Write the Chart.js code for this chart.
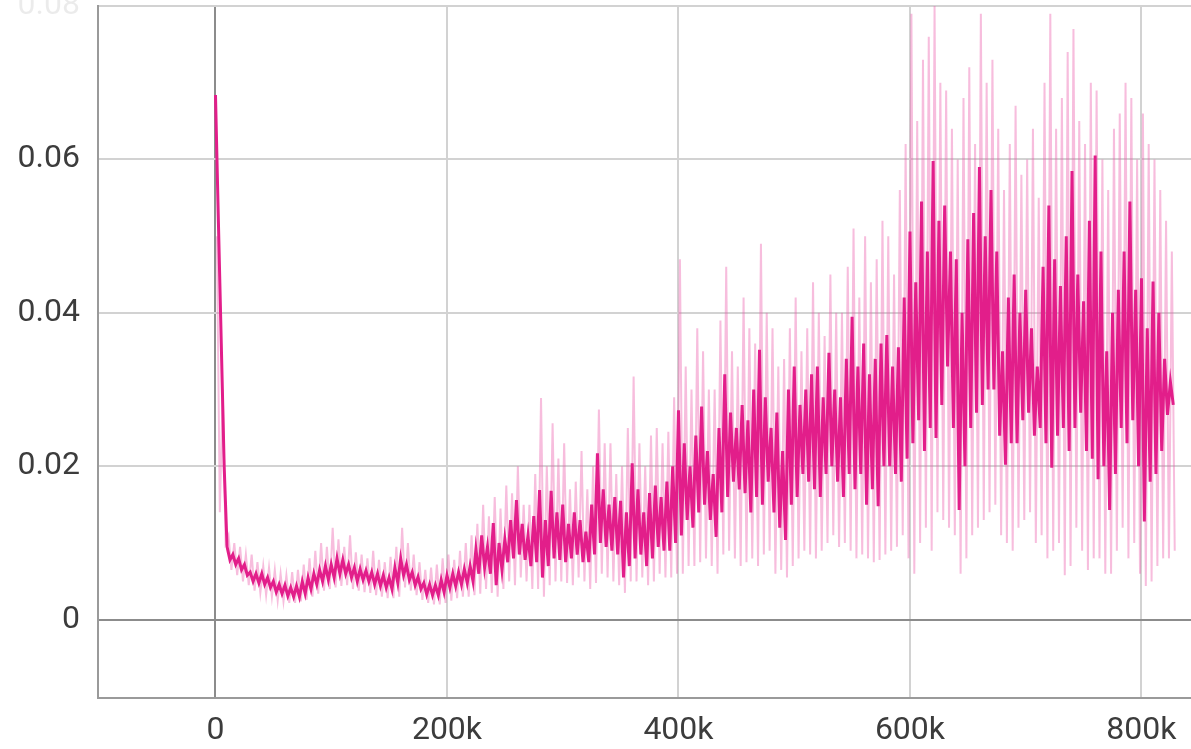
<!DOCTYPE html>
<html>
<head>
<meta charset="utf-8">
<script src="https://cdn.jsdelivr.net/npm/chart.js@4"></script>
<style>
  html, body { margin: 0; padding: 0; background: #fff; }
</style>
</head>
<body>
<canvas id="myChart" width="1191" height="749"></canvas>
<script>
// step positions (thousands of steps), one bin every 10k
const stepsK = [0, 10, 20, 30, 40, 50, 60, 70, 80, 90,
  100, 110, 120, 130, 140, 150, 160, 170, 180, 190,
  200, 210, 220, 230, 240, 250, 260, 270, 280, 290,
  300, 310, 320, 330, 340, 350, 360, 370, 380, 390,
  400, 410, 420, 430, 440, 450, 460, 470, 480, 490,
  500, 510, 520, 530, 540, 550, 560, 570, 580, 590,
  600, 610, 620, 630, 640, 650, 660, 670, 680, 690,
  700, 710, 720, 730, 740, 750, 760, 770, 780, 790,
  800, 810, 820]

// smoothed series, four readings per bin: high, low, high, low
const smoothHi = [0.0684, 0.0095, 0.0080, 0.0062, 0.0060, 0.0050, 0.0045, 0.0044, 0.0055, 0.0065,
  0.0072, 0.0078, 0.0068, 0.0064, 0.0060, 0.0055, 0.0080, 0.0062, 0.0048, 0.0045,
  0.0058, 0.0062, 0.0070, 0.0110, 0.0126, 0.0105, 0.0156, 0.0110, 0.0169, 0.0168,
  0.0150, 0.0140, 0.0115, 0.0217, 0.0150, 0.0155, 0.0204, 0.0140, 0.0175, 0.0180,
  0.0273, 0.0200, 0.0278, 0.0190, 0.0320, 0.0250, 0.0260, 0.0352, 0.0250, 0.0220,
  0.0330, 0.0300, 0.0330, 0.0348, 0.0290, 0.0395, 0.0360, 0.0340, 0.0371, 0.0355,
  0.0506, 0.0545, 0.0598, 0.0540, 0.0470, 0.0496, 0.0590, 0.0560, 0.0350, 0.0450,
  0.0430, 0.0330, 0.0540, 0.0435, 0.0585, 0.0415, 0.0605, 0.0350, 0.0430, 0.0545,
  0.0445, 0.0441, 0.0340]
const smoothLo = [0.0520, 0.0078, 0.0065, 0.0050, 0.0046, 0.0036, 0.0031, 0.0030, 0.0040, 0.0050,
  0.0055, 0.0060, 0.0050, 0.0050, 0.0044, 0.0040, 0.0058, 0.0045, 0.0033, 0.0032,
  0.0042, 0.0046, 0.0050, 0.0068, 0.0045, 0.0075, 0.0085, 0.0070, 0.0055, 0.0080,
  0.0075, 0.0085, 0.0075, 0.0100, 0.0090, 0.0055, 0.0080, 0.0070, 0.0095, 0.0090,
  0.0110, 0.0120, 0.0150, 0.0108, 0.0160, 0.0170, 0.0140, 0.0150, 0.0140, 0.0104,
  0.0160, 0.0180, 0.0160, 0.0200, 0.0160, 0.0170, 0.0150, 0.0148, 0.0200, 0.0180,
  0.0230, 0.0220, 0.0237, 0.0330, 0.0143, 0.0250, 0.0280, 0.0300, 0.0202, 0.0230,
  0.0270, 0.0250, 0.0198, 0.0250, 0.0250, 0.0220, 0.0183, 0.0143, 0.0250, 0.0260,
  0.0128, 0.0190, 0.0267]
const smoothHi2 = [0.0360, 0.0085, 0.0072, 0.0060, 0.0055, 0.0046, 0.0042, 0.0050, 0.0060, 0.0070,
  0.0080, 0.0072, 0.0066, 0.0062, 0.0058, 0.0068, 0.0072, 0.0056, 0.0046, 0.0052,
  0.0060, 0.0066, 0.0092, 0.0095, 0.0100, 0.0130, 0.0125, 0.0135, 0.0130, 0.0140,
  0.0125, 0.0130, 0.0150, 0.0170, 0.0160, 0.0140, 0.0170, 0.0165, 0.0160, 0.0200,
  0.0230, 0.0240, 0.0220, 0.0250, 0.0270, 0.0280, 0.0300, 0.0290, 0.0270, 0.0300,
  0.0280, 0.0320, 0.0290, 0.0300, 0.0340, 0.0330, 0.0320, 0.0360, 0.0330, 0.0420,
  0.0440, 0.0480, 0.0520, 0.0480, 0.0400, 0.0530, 0.0500, 0.0480, 0.0420, 0.0400,
  0.0380, 0.0460, 0.0470, 0.0500, 0.0450, 0.0520, 0.0480, 0.0400, 0.0480, 0.0430,
  0.0380, 0.0400, 0.0310]
const smoothLo2 = [0.0200, 0.0072, 0.0058, 0.0048, 0.0042, 0.0034, 0.0030, 0.0034, 0.0046, 0.0052,
  0.0060, 0.0055, 0.0052, 0.0046, 0.0042, 0.0048, 0.0052, 0.0040, 0.0032, 0.0036,
  0.0044, 0.0048, 0.0060, 0.0060, 0.0065, 0.0080, 0.0078, 0.0075, 0.0070, 0.0078,
  0.0080, 0.0075, 0.0085, 0.0095, 0.0085, 0.0070, 0.0085, 0.0080, 0.0090, 0.0100,
  0.0130, 0.0140, 0.0130, 0.0140, 0.0180, 0.0165, 0.0160, 0.0180, 0.0120, 0.0150,
  0.0190, 0.0170, 0.0190, 0.0180, 0.0190, 0.0190, 0.0170, 0.0200, 0.0190, 0.0210,
  0.0260, 0.0250, 0.0280, 0.0250, 0.0200, 0.0270, 0.0300, 0.0240, 0.0230, 0.0260,
  0.0240, 0.0230, 0.0240, 0.0220, 0.0270, 0.0210, 0.0200, 0.0190, 0.0230, 0.0200,
  0.0180, 0.0220, 0.0280]

// raw series, four readings per bin: high, low, high, low
const rawHi = [0.0500, 0.0110, 0.0095, 0.0085, 0.0070, 0.0065, 0.0058, 0.0065, 0.0080, 0.0100,
  0.0120, 0.0095, 0.0088, 0.0080, 0.0078, 0.0082, 0.0120, 0.0085, 0.0065, 0.0072,
  0.0085, 0.0090, 0.0110, 0.0150, 0.0160, 0.0175, 0.0200, 0.0150, 0.0289, 0.0256,
  0.0230, 0.0180, 0.0170, 0.0274, 0.0230, 0.0200, 0.0317, 0.0200, 0.0250, 0.0245,
  0.0470, 0.0300, 0.0350, 0.0300, 0.0460, 0.0330, 0.0380, 0.0490, 0.0380, 0.0340,
  0.0420, 0.0380, 0.0400, 0.0450, 0.0400, 0.0510, 0.0500, 0.0470, 0.0500, 0.0560,
  0.0790, 0.0730, 0.0800, 0.0690, 0.0600, 0.0720, 0.0790, 0.0730, 0.0560, 0.0670,
  0.0600, 0.0550, 0.0790, 0.0680, 0.0770, 0.0620, 0.0690, 0.0560, 0.0660, 0.0680,
  0.0660, 0.0600, 0.0520]
const rawLo = [0.0140, 0.0065, 0.0050, 0.0038, 0.0032, 0.0025, 0.0022, 0.0024, 0.0030, 0.0038,
  0.0042, 0.0045, 0.0038, 0.0035, 0.0030, 0.0028, 0.0042, 0.0032, 0.0022, 0.0020,
  0.0025, 0.0030, 0.0032, 0.0040, 0.0030, 0.0050, 0.0055, 0.0040, 0.0030, 0.0050,
  0.0048, 0.0055, 0.0040, 0.0060, 0.0050, 0.0035, 0.0050, 0.0045, 0.0060, 0.0055,
  0.0060, 0.0070, 0.0080, 0.0060, 0.0090, 0.0070, 0.0080, 0.0085, 0.0060, 0.0055,
  0.0080, 0.0085, 0.0090, 0.0110, 0.0100, 0.0080, 0.0080, 0.0078, 0.0090, 0.0110,
  0.0060, 0.0120, 0.0140, 0.0120, 0.0060, 0.0110, 0.0130, 0.0150, 0.0100, 0.0120,
  0.0140, 0.0110, 0.0090, 0.0058, 0.0120, 0.0065, 0.0080, 0.0060, 0.0120, 0.0100,
  0.0044, 0.0070, 0.0080]
const rawHi2 = [0.0300, 0.0100, 0.0085, 0.0075, 0.0068, 0.0060, 0.0062, 0.0072, 0.0090, 0.0095,
  0.0105, 0.0110, 0.0085, 0.0090, 0.0075, 0.0095, 0.0100, 0.0075, 0.0068, 0.0080,
  0.0078, 0.0100, 0.0125, 0.0135, 0.0145, 0.0165, 0.0150, 0.0190, 0.0200, 0.0210,
  0.0170, 0.0220, 0.0200, 0.0230, 0.0190, 0.0250, 0.0230, 0.0240, 0.0230, 0.0290,
  0.0330, 0.0380, 0.0300, 0.0390, 0.0350, 0.0420, 0.0360, 0.0400, 0.0330, 0.0380,
  0.0350, 0.0440, 0.0370, 0.0400, 0.0460, 0.0420, 0.0440, 0.0520, 0.0450, 0.0620,
  0.0650, 0.0760, 0.0700, 0.0640, 0.0680, 0.0620, 0.0700, 0.0640, 0.0620, 0.0580,
  0.0640, 0.0700, 0.0640, 0.0740, 0.0650, 0.0700, 0.0600, 0.0640, 0.0700, 0.0600,
  0.0620, 0.0560, 0.0480]
const rawLo2 = [0.0100, 0.0058, 0.0045, 0.0035, 0.0030, 0.0024, 0.0022, 0.0026, 0.0034, 0.0040,
  0.0044, 0.0040, 0.0036, 0.0032, 0.0028, 0.0030, 0.0038, 0.0026, 0.0020, 0.0022,
  0.0028, 0.0030, 0.0034, 0.0035, 0.0040, 0.0045, 0.0050, 0.0040, 0.0045, 0.0050,
  0.0045, 0.0050, 0.0048, 0.0055, 0.0045, 0.0050, 0.0055, 0.0050, 0.0055, 0.0060,
  0.0070, 0.0075, 0.0070, 0.0085, 0.0080, 0.0075, 0.0070, 0.0090, 0.0065, 0.0070,
  0.0090, 0.0080, 0.0100, 0.0095, 0.0090, 0.0085, 0.0075, 0.0085, 0.0095, 0.0080,
  0.0100, 0.0090, 0.0130, 0.0110, 0.0080, 0.0120, 0.0140, 0.0110, 0.0090, 0.0130,
  0.0100, 0.0080, 0.0100, 0.0070, 0.0090, 0.0080, 0.0060, 0.0090, 0.0080, 0.0060,
  0.0050, 0.0080, 0.0090]

const xTicks = [0, 200000, 400000, 600000, 800000]
const yTicks = [0, 0.02, 0.04, 0.06, 0.08]

const smoothPoints = []
const rawPoints = []
stepsK.forEach((k, i) => {
  const x0 = k * 1000
  smoothPoints.push({ x: x0, y: smoothHi[i] })
  smoothPoints.push({ x: x0 + 2500, y: smoothLo[i] })
  smoothPoints.push({ x: x0 + 5000, y: smoothHi2[i] })
  smoothPoints.push({ x: x0 + 7500, y: smoothLo2[i] })
  rawPoints.push({ x: x0 + 1250, y: rawHi[i] })
  rawPoints.push({ x: x0 + 3750, y: rawLo[i] })
  rawPoints.push({ x: x0 + 6250, y: rawHi2[i] })
  rawPoints.push({ x: x0 + 8750, y: rawLo2[i] })
})

const tickFont = { family: 'Roboto', size: 32 }
const gridColor = (ctx) => ctx.tick && ctx.tick.value === 0 ? '#8c8c8c' : '#d2d2d2'

new Chart(document.getElementById('myChart'), {
  type: 'line',
  data: {
    datasets: [{
      label: 'smoothed',
      data: smoothPoints,
      borderColor: 'rgb(226, 30, 138)',
      borderWidth: 3,
      pointRadius: 0,
      tension: 0
    }, {
      label: 'raw',
      data: rawPoints,
      borderColor: 'rgba(236, 90, 170, 0.4)',
      borderWidth: 2,
      pointRadius: 0,
      tension: 0
    }]
  },
  options: {
    responsive: false,
    animation: false,
    layout: { padding: { top: 6, right: 0, bottom: 0, left: 0 } },
    plugins: { legend: { display: false }, tooltip: { enabled: false } },
    scales: {
      x: {
        type: 'linear',
        min: -101500,
        max: 842800,
        afterBuildTicks: (scale) => { scale.ticks = xTicks.map(v => ({ value: v })) },
        afterFit: (scale) => { scale.height = 51; scale.paddingLeft = 0; scale.paddingRight = 0 },
        ticks: {
          font: tickFont,
          color: '#3c3c3c',
          padding: 14,
          maxRotation: 0,
          autoSkip: false,
          callback: (v) => v === 0 ? '0' : (v / 1000) + 'k'
        },
        grid: { color: gridColor, lineWidth: 2, drawTicks: false },
        border: { color: '#9a9a9a', width: 2 }
      },
      y: {
        min: -0.0102,
        max: 0.08,
        afterBuildTicks: (scale) => { scale.ticks = yTicks.map(v => ({ value: v })) },
        afterFit: (scale) => { scale.width = 98; scale.paddingTop = 0; scale.paddingBottom = 0 },
        ticks: {
          font: tickFont,
          color: (ctx) => ctx.tick && ctx.tick.value === 0.08 ? 'rgba(0,0,0,0.08)' : '#3c3c3c',
          padding: 18,
          callback: (v) => v === 0 ? '0' : v.toFixed(2)
        },
        grid: { color: gridColor, lineWidth: 2, drawTicks: false },
        border: { color: '#9a9a9a', width: 2 }
      }
    }
  }
})
</script>
</body>
</html>
